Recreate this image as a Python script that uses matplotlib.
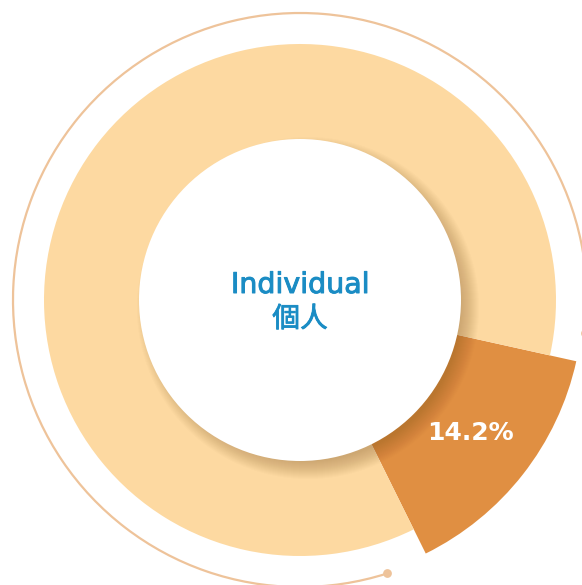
import numpy as np
import matplotlib
matplotlib.use("Agg")
import matplotlib.pyplot as plt
import matplotlib.patheffects as pe
from matplotlib.patches import Circle, Arc

# data
categories = ["Individual 個人", "Others"]
shares = [14.2, 85.8]
label_text = "14.2%"
center_en = "Individual"
center_zh = "個人"

colors = ["#E08F42", "#FDD9A1"]

plt.rcParams['font.family'] = ['Noto Sans CJK TC', 'DejaVu Sans']

fig = plt.figure(figsize=(5.82, 5.85), dpi=100)
ax = fig.add_axes([0, 0, 1, 1])

r_in = 161
r_big = 283
r_small = 256
wedges, _ = ax.pie(shares, colors=colors, startangle=-12.5, counterclock=False,
                   radius=r_big, center=(0, 0),
                   wedgeprops=dict(width=r_big - r_in + 4, linewidth=0))
wedges[1].set_radius(r_small)
wedges[1].set_width(r_small - r_in + 4)
ax.set_xlim(-300, 282)
ax.set_ylim(-285, 300)
ax.set_aspect('equal')
ax.axis('off')

# outer arc with end dots
ang1, ang2 = -6.7, 287.7
R = 287
ax.add_patch(Arc((0, 0), 2 * R, 2 * R, theta1=ang1, theta2=ang2,
                 color="#EEC39A", lw=1.6, zorder=1))
for a in (ang1, ang2):
    t = np.deg2rad(a)
    ax.scatter([R * np.cos(t)], [R * np.sin(t)], s=40, color="#EEC39A", zorder=2, linewidths=0)

# soft shadow of inner circle (lower right)
for k in range(19):
    ax.add_patch(Circle((8, -8), r_in - 8 + k, color="#7a5020", alpha=0.02, lw=0, zorder=3))
ax.add_patch(Circle((0, 0), r_in, color="white", lw=0, zorder=4))

blue = "#1A8CC4"
# centre text
ax.text(0, 15, center_en, ha='center', va='center', color=blue,
        fontsize=20.5, family='DejaVu Sans', zorder=5,
        path_effects=[pe.withStroke(linewidth=0.7, foreground=blue)])
ax.text(0, -19, center_zh, ha='center', va='center', color=blue,
        fontsize=20, fontweight='medium', zorder=5,
        path_effects=[pe.withStroke(linewidth=0.6, foreground=blue)])

# slice label
ax.text(170, -133, label_text, ha='center', va='center', color="white",
        fontsize=18, fontweight='bold', family='DejaVu Sans', zorder=5)

fig.savefig("out.png", dpi=100)
